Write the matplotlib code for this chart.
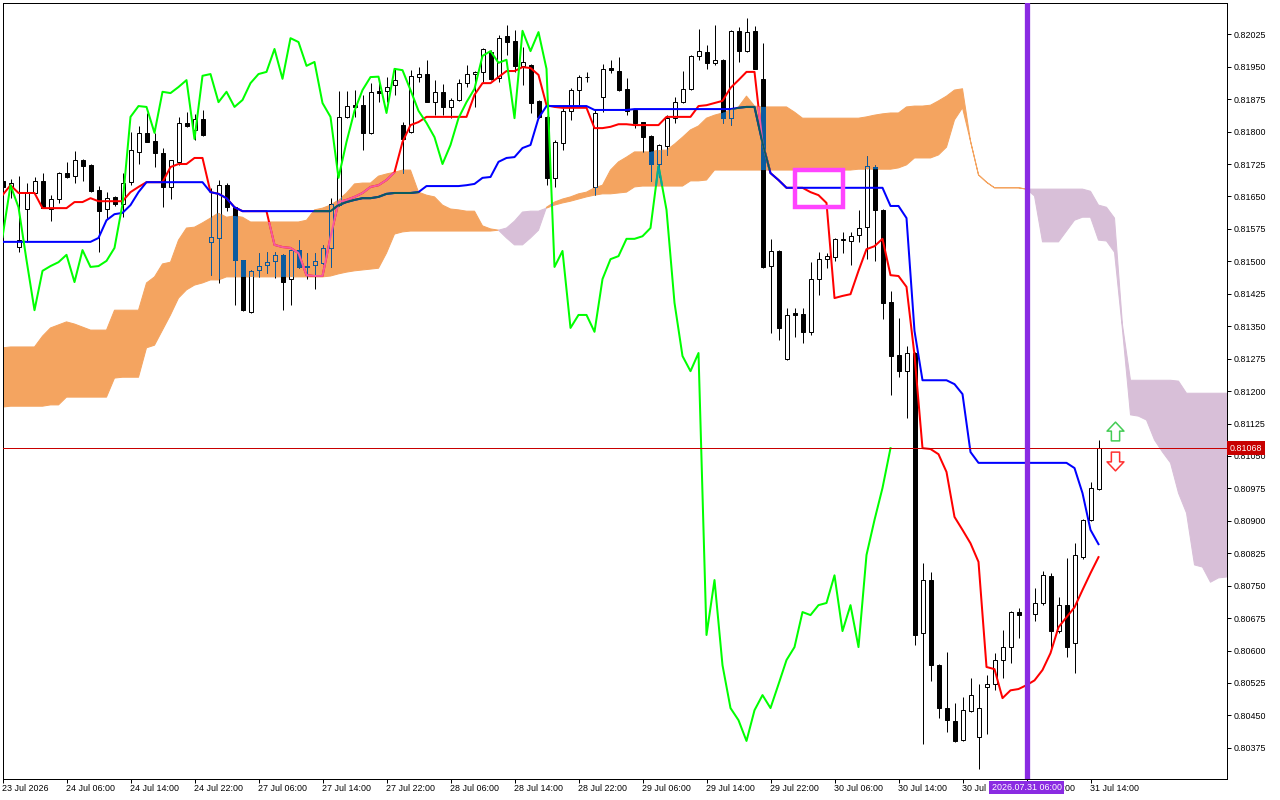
import numpy as np
import matplotlib
matplotlib.use("Agg")
import matplotlib.pyplot as plt
import matplotlib.colors as mcolors
import matplotlib.transforms as mtransforms
from matplotlib.patches import Rectangle
from matplotlib.path import Path
from matplotlib.ticker import FormatStrFormatter

plt.rcParams['font.family'] = ['Liberation Sans', 'DejaVu Sans']

# --- H1 bars, 23 Jul 22:00 .. 31 Jul 15:00 (bar index = x) ---
opens = [
    0.81686, 0.81672, 0.81533, 0.81621, 0.81658, 0.81686, 0.81621, 0.81644, 0.81704, 0.81697,
    0.81734, 0.81723, 0.81665, 0.81621, 0.81649, 0.81632, 0.81683, 0.81753, 0.81797, 0.81778,
    0.81750, 0.81672, 0.81730, 0.81820, 0.81804, 0.81829, 0.81545, 0.81554, 0.81676, 0.81625,
    0.81503, 0.81383, 0.81480, 0.81491, 0.81501, 0.81515, 0.81459, 0.81526, 0.81487, 0.81491,
    0.81496, 0.81531, 0.81630, 0.81834, 0.81861, 0.81861, 0.81797, 0.81894, 0.81894, 0.81908,
    0.81815, 0.81799, 0.81926, 0.81933, 0.81868, 0.81892, 0.81857, 0.81873, 0.81912, 0.81933,
    0.81938, 0.81984, 0.81924, 0.82021, 0.82010, 0.81952, 0.81954, 0.81871, 0.81834, 0.81693,
    0.81774, 0.81848, 0.81896, 0.81926, 0.81672, 0.81880, 0.81947, 0.81940, 0.81899, 0.81850,
    0.81822, 0.81790, 0.81725, 0.81767, 0.81831, 0.81868, 0.81899, 0.81975, 0.81984, 0.81959,
    0.81966, 0.81831, 0.82033, 0.81986, 0.82033, 0.81922, 0.81489, 0.81524, 0.81274, 0.81381,
    0.81378, 0.81337, 0.81459, 0.81505, 0.81510, 0.81549, 0.81547, 0.81561, 0.81579, 0.81718,
    0.81619, 0.81406, 0.81283, 0.81246, 0.81288, 0.80640, 0.80763, 0.80566, 0.80467, 0.80437,
    0.80393, 0.80460, 0.80400, 0.80515, 0.80522, 0.80578, 0.80608, 0.80689, 0.80682, 0.80684,
    0.80710, 0.80772, 0.80645, 0.80705, 0.80617, 0.80816, 0.80902, 0.80974]
highs = [
    0.81690, 0.81690, 0.81697, 0.81681, 0.81695, 0.81704, 0.81653, 0.81706, 0.81730, 0.81755,
    0.81736, 0.81725, 0.81674, 0.81660, 0.81650, 0.81704, 0.81799, 0.81813, 0.81843, 0.81797,
    0.81762, 0.81734, 0.81834, 0.81845, 0.81841, 0.81850, 0.81670, 0.81688, 0.81681, 0.81626,
    0.81504, 0.81480, 0.81519, 0.81521, 0.81521, 0.81517, 0.81526, 0.81549, 0.81519, 0.81519,
    0.81538, 0.81646, 0.81894, 0.81894, 0.81896, 0.81885, 0.81912, 0.81912, 0.81926, 0.81947,
    0.81822, 0.81942, 0.81949, 0.81966, 0.81919, 0.81910, 0.81878, 0.81922, 0.81954, 0.81939,
    0.81993, 0.81989, 0.82023, 0.82047, 0.82035, 0.81996, 0.81956, 0.81873, 0.81836, 0.81781,
    0.81855, 0.81901, 0.81931, 0.81938, 0.81852, 0.81956, 0.81966, 0.81973, 0.81924, 0.81851,
    0.81823, 0.81791, 0.81771, 0.81838, 0.81880, 0.81940, 0.81976, 0.82037, 0.82000, 0.82047,
    0.81967, 0.82034, 0.82042, 0.82063, 0.82044, 0.82005, 0.81552, 0.81526, 0.81392, 0.81392,
    0.81392, 0.81498, 0.81521, 0.81519, 0.81553, 0.81568, 0.81568, 0.81619, 0.81743, 0.81723,
    0.81621, 0.81431, 0.81369, 0.81304, 0.81290, 0.80802, 0.80781, 0.80568, 0.80596, 0.80478,
    0.80492, 0.80536, 0.80522, 0.80543, 0.80594, 0.80647, 0.80691, 0.80698, 0.80710, 0.80744,
    0.80784, 0.80779, 0.80724, 0.80814, 0.80848, 0.80904, 0.80990, 0.81087]
lows = [
    0.81665, 0.81646, 0.81521, 0.81545, 0.81653, 0.81623, 0.81593, 0.81635, 0.81693, 0.81681,
    0.81686, 0.81660, 0.81521, 0.81598, 0.81628, 0.81602, 0.81676, 0.81725, 0.81776, 0.81718,
    0.81625, 0.81644, 0.81723, 0.81811, 0.81781, 0.81790, 0.81468, 0.81450, 0.81616, 0.81399,
    0.81385, 0.81381, 0.81464, 0.81473, 0.81461, 0.81387, 0.81399, 0.81484, 0.81459, 0.81436,
    0.81494, 0.81487, 0.81628, 0.81831, 0.81834, 0.81757, 0.81794, 0.81868, 0.81868, 0.81885,
    0.81704, 0.81797, 0.81915, 0.81868, 0.81838, 0.81838, 0.81831, 0.81871, 0.81903, 0.81857,
    0.81915, 0.81919, 0.81915, 0.81977, 0.81938, 0.81908, 0.81843, 0.81831, 0.81676, 0.81672,
    0.81757, 0.81827, 0.81861, 0.81915, 0.81653, 0.81845, 0.81936, 0.81894, 0.81838, 0.81808,
    0.81753, 0.81686, 0.81695, 0.81746, 0.81820, 0.81866, 0.81896, 0.81966, 0.81945, 0.81954,
    0.81820, 0.81815, 0.81961, 0.81984, 0.81945, 0.81484, 0.81334, 0.81318, 0.81272, 0.81325,
    0.81311, 0.81330, 0.81422, 0.81484, 0.81501, 0.81519, 0.81491, 0.81545, 0.81505, 0.81501,
    0.81367, 0.81191, 0.81232, 0.81138, 0.80613, 0.80384, 0.80529, 0.80444, 0.80411, 0.80389,
    0.80391, 0.80458, 0.80326, 0.80407, 0.80508, 0.80536, 0.80571, 0.80629, 0.80666, 0.80668,
    0.80705, 0.80601, 0.80640, 0.80585, 0.80548, 0.80811, 0.80900, 0.80971]
closes = [
    0.81672, 0.81681, 0.81549, 0.81658, 0.81686, 0.81623, 0.81644, 0.81704, 0.81695, 0.81734,
    0.81720, 0.81662, 0.81616, 0.81646, 0.81632, 0.81681, 0.81757, 0.81797, 0.81776, 0.81750,
    0.81672, 0.81734, 0.81820, 0.81813, 0.81829, 0.81792, 0.81556, 0.81676, 0.81625, 0.81503,
    0.81387, 0.81478, 0.81489, 0.81498, 0.81515, 0.81452, 0.81526, 0.81487, 0.81489, 0.81501,
    0.81531, 0.81632, 0.81834, 0.81859, 0.81857, 0.81797, 0.81892, 0.81889, 0.81903, 0.81919,
    0.81783, 0.81929, 0.81933, 0.81868, 0.81892, 0.81857, 0.81873, 0.81912, 0.81933, 0.81938,
    0.81991, 0.81922, 0.82016, 0.82007, 0.81952, 0.81961, 0.81866, 0.81834, 0.81693, 0.81776,
    0.81848, 0.81896, 0.81926, 0.81927, 0.81843, 0.81945, 0.81942, 0.81896, 0.81848, 0.81820,
    0.81787, 0.81725, 0.81769, 0.81831, 0.81868, 0.81899, 0.81975, 0.81986, 0.81959, 0.81966,
    0.81831, 0.82033, 0.81986, 0.82030, 0.81945, 0.81487, 0.81524, 0.81346, 0.81376, 0.81376,
    0.81337, 0.81459, 0.81505, 0.81512, 0.81552, 0.81552, 0.81558, 0.81577, 0.81720, 0.81619,
    0.81404, 0.81281, 0.81246, 0.81288, 0.80636, 0.80763, 0.80566, 0.80467, 0.80439, 0.80391,
    0.80462, 0.80497, 0.80467, 0.80522, 0.80578, 0.80608, 0.80689, 0.80682, 0.80705, 0.80710,
    0.80774, 0.80645, 0.80705, 0.80608, 0.80821, 0.80902, 0.80976, 0.81068]

# --- Ichimoku lines ---
tenkan = [
    0.81653, 0.81676, 0.81658, 0.81658, 0.81658, 0.81623, 0.81623, 0.81623, 0.81623, 0.81637,
    0.81637, 0.81646, 0.81639, 0.81639, 0.81639, 0.81639, 0.81660, 0.81672, 0.81683, 0.81683,
    0.81683, 0.81718, 0.81725, 0.81725, 0.81739, 0.81739, 0.81660, 0.81656, 0.81646, 0.81625,
    0.81616, 0.81616, 0.81616, 0.81616, 0.81538, 0.81533, 0.81531, 0.81519, 0.81468, 0.81466,
    0.81466, 0.81556, 0.81637, 0.81642, 0.81649, 0.81658, 0.81672, 0.81676, 0.81688, 0.81706,
    0.81776, 0.81815, 0.81822, 0.81834, 0.81834, 0.81834, 0.81834, 0.81834, 0.81834, 0.81885,
    0.81912, 0.81912, 0.81926, 0.81940, 0.81940, 0.81949, 0.81947, 0.81931, 0.81861, 0.81857,
    0.81855, 0.81855, 0.81855, 0.81855, 0.81808, 0.81808, 0.81811, 0.81817, 0.81817, 0.81815,
    0.81815, 0.81815, 0.81815, 0.81834, 0.81834, 0.81834, 0.81834, 0.81859, 0.81861, 0.81866,
    0.81871, 0.81901, 0.81919, 0.81938, 0.81938, 0.81774, 0.81704, 0.81688, 0.81670, 0.81670,
    0.81670, 0.81660, 0.81653, 0.81635, 0.81415, 0.81420, 0.81424, 0.81478, 0.81528, 0.81535,
    0.81552, 0.81468, 0.81466, 0.81441, 0.81283, 0.81068, 0.81066, 0.81054, 0.81013, 0.80909,
    0.80879, 0.80848, 0.80805, 0.80562, 0.80557, 0.80490, 0.80508, 0.80511, 0.80520, 0.80531,
    0.80555, 0.80594, 0.80654, 0.80677, 0.80700, 0.80740, 0.80779, 0.80816]
kijun = [
    0.81545, 0.81545, 0.81545, 0.81545, 0.81545, 0.81545, 0.81545, 0.81545, 0.81545, 0.81545,
    0.81545, 0.81545, 0.81554, 0.81595, 0.81609, 0.81612, 0.81630, 0.81660, 0.81683, 0.81683,
    0.81683, 0.81683, 0.81683, 0.81683, 0.81683, 0.81683, 0.81660, 0.81656, 0.81646, 0.81625,
    0.81616, 0.81616, 0.81616, 0.81616, 0.81616, 0.81616, 0.81616, 0.81616, 0.81616, 0.81616,
    0.81616, 0.81616, 0.81630, 0.81637, 0.81642, 0.81646, 0.81646, 0.81649, 0.81656, 0.81658,
    0.81658, 0.81658, 0.81660, 0.81674, 0.81674, 0.81674, 0.81674, 0.81674, 0.81676, 0.81679,
    0.81693, 0.81695, 0.81730, 0.81739, 0.81741, 0.81762, 0.81769, 0.81831, 0.81859, 0.81859,
    0.81859, 0.81859, 0.81859, 0.81859, 0.81850, 0.81850, 0.81850, 0.81850, 0.81850, 0.81852,
    0.81852, 0.81852, 0.81852, 0.81852, 0.81852, 0.81852, 0.81852, 0.81852, 0.81852, 0.81852,
    0.81852, 0.81852, 0.81855, 0.81857, 0.81857, 0.81774, 0.81704, 0.81688, 0.81670, 0.81670,
    0.81670, 0.81670, 0.81670, 0.81670, 0.81670, 0.81670, 0.81670, 0.81670, 0.81670, 0.81670,
    0.81670, 0.81628, 0.81628, 0.81600, 0.81339, 0.81225, 0.81225, 0.81225, 0.81225, 0.81216,
    0.81193, 0.81059, 0.81034, 0.81034, 0.81034, 0.81034, 0.81034, 0.81034, 0.81034, 0.81034,
    0.81034, 0.81034, 0.81034, 0.81034, 0.81022, 0.80964, 0.80879, 0.80846]
# Senkou spans, already displaced 26 bars forward (index = bar on screen)
span_a = [
    0.81300, 0.81302, 0.81302, 0.81302, 0.81302, 0.81327, 0.81346, 0.81353, 0.81360, 0.81355,
    0.81348, 0.81341, 0.81341, 0.81341, 0.81387, 0.81387, 0.81387, 0.81387, 0.81450, 0.81464,
    0.81494, 0.81498, 0.81549, 0.81577, 0.81579, 0.81589, 0.81600, 0.81612, 0.81602, 0.81605,
    0.81602, 0.81591, 0.81591, 0.81591, 0.81591, 0.81591, 0.81591, 0.81591, 0.81595, 0.81619,
    0.81623, 0.81630, 0.81642, 0.81658, 0.81679, 0.81681, 0.81681, 0.81697, 0.81702, 0.81706,
    0.81711, 0.81711, 0.81660, 0.81653, 0.81649, 0.81630, 0.81621, 0.81619, 0.81616, 0.81616,
    0.81582, 0.81575, 0.81572, 0.81554, 0.81538, 0.81538, 0.81554, 0.81572, 0.81625, 0.81637,
    0.81644, 0.81649, 0.81656, 0.81660, 0.81670, 0.81676, 0.81711, 0.81730, 0.81741, 0.81753,
    0.81753, 0.81753, 0.81757, 0.81757, 0.81771, 0.81787, 0.81804, 0.81813, 0.81831, 0.81838,
    0.81843, 0.81850, 0.81857, 0.81882, 0.81859, 0.81857, 0.81857, 0.81857, 0.81857, 0.81845,
    0.81831, 0.81831, 0.81831, 0.81831, 0.81831, 0.81831, 0.81831, 0.81831, 0.81834, 0.81838,
    0.81841, 0.81843, 0.81843, 0.81857, 0.81859, 0.81859, 0.81861, 0.81871, 0.81882, 0.81896,
    0.81899, 0.81778, 0.81700, 0.81683, 0.81670, 0.81670, 0.81670, 0.81670, 0.81667, 0.81651,
    0.81545, 0.81545, 0.81545, 0.81570, 0.81595, 0.81602, 0.81602, 0.81549, 0.81547, 0.81521,
    0.81341, 0.81145, 0.81142, 0.81133, 0.81087, 0.81059, 0.81034, 0.80964, 0.80918, 0.80798,
    0.80793, 0.80758, 0.80768, 0.80770]
span_b = [
    0.81163, 0.81165, 0.81165, 0.81165, 0.81165, 0.81165, 0.81168, 0.81168, 0.81186, 0.81186,
    0.81186, 0.81186, 0.81186, 0.81186, 0.81230, 0.81232, 0.81232, 0.81232, 0.81300, 0.81306,
    0.81341, 0.81376, 0.81415, 0.81434, 0.81445, 0.81450, 0.81457, 0.81457, 0.81464, 0.81464,
    0.81464, 0.81464, 0.81464, 0.81464, 0.81464, 0.81464, 0.81464, 0.81464, 0.81464, 0.81464,
    0.81464, 0.81466, 0.81471, 0.81475, 0.81478, 0.81480, 0.81482, 0.81484, 0.81519, 0.81563,
    0.81568, 0.81570, 0.81570, 0.81570, 0.81570, 0.81570, 0.81570, 0.81570, 0.81570, 0.81570,
    0.81570, 0.81570, 0.81572, 0.81577, 0.81593, 0.81614, 0.81616, 0.81616, 0.81623, 0.81630,
    0.81635, 0.81639, 0.81644, 0.81649, 0.81653, 0.81656, 0.81656, 0.81658, 0.81660, 0.81672,
    0.81674, 0.81674, 0.81674, 0.81674, 0.81674, 0.81674, 0.81686, 0.81686, 0.81688, 0.81711,
    0.81711, 0.81711, 0.81711, 0.81711, 0.81711, 0.81711, 0.81711, 0.81711, 0.81711, 0.81711,
    0.81711, 0.81711, 0.81711, 0.81711, 0.81711, 0.81711, 0.81711, 0.81713, 0.81713, 0.81713,
    0.81713, 0.81713, 0.81716, 0.81723, 0.81739, 0.81739, 0.81739, 0.81746, 0.81764, 0.81827,
    0.81855, 0.81778, 0.81700, 0.81683, 0.81670, 0.81670, 0.81670, 0.81670, 0.81667, 0.81667,
    0.81667, 0.81667, 0.81667, 0.81667, 0.81667, 0.81667, 0.81662, 0.81630, 0.81625, 0.81600,
    0.81353, 0.81225, 0.81225, 0.81225, 0.81225, 0.81225, 0.81225, 0.81223, 0.81195, 0.81195,
    0.81195, 0.81195, 0.81195, 0.81195]
CHIKOU_SHIFT = 26

TICK_BARS = list(range(0, 137, 8))
TICK_LABELS = ['23 Jul 2026', '24 Jul 06:00', '24 Jul 14:00', '24 Jul 22:00', '27 Jul 06:00',
               '27 Jul 14:00', '27 Jul 22:00', '28 Jul 06:00', '28 Jul 14:00', '28 Jul 22:00',
               '29 Jul 06:00', '29 Jul 14:00', '29 Jul 22:00', '30 Jul 06:00', '30 Jul 14:00',
               '30 Jul 22:00', '31 Jul 06:00', '31 Jul 14:00']
PRICE_TICKS = np.arange(0.80375, 0.82030, 0.00075)

LAST_PRICE = 0.81068
VLINE_BAR = 128
VLINE_LABEL = '2026.07.31 06:00'
RECT_BARS = (99, 105)
RECT_PRICES = (0.81625, 0.81712)
ARROW_BAR = 139
ARROW_UP_PRICE = 0.81108
ARROW_DOWN_PRICE = 0.81039

# --- styling ---
CLOUD_UP = '#f4a460'   # SandyBrown
CLOUD_DN = '#d8bfd8'   # Thistle
VLINE_COLOR = '#8a2be2'
PRICE_COLOR = '#c80000'
RECT_COLOR = '#ff44ff'
LW = 0.72              # one pixel at 100 dpi
FS = 6.4


def xor_color(color, fill):
    """MT5 paints the cloud in XOR mode: colour under the cloud = c ^ ~fill."""
    c = np.round(np.array(mcolors.to_rgb(color)) * 255).astype(int)
    f = np.round(np.array(mcolors.to_rgb(fill)) * 255).astype(int)
    return tuple((c ^ (255 - f)) / 255.0)


# hollow arrow glyph used for the buy / sell marks
ARROW_UP = Path([(-0.22, -0.5), (0.22, -0.5), (0.22, 0.02), (0.45, 0.02), (0.0, 0.5),
                 (-0.45, 0.02), (-0.22, 0.02), (-0.22, -0.5)],
                [Path.MOVETO] + [Path.LINETO] * 6 + [Path.CLOSEPOLY])
ARROW_DOWN = Path(ARROW_UP.vertices * np.array([1, -1]), ARROW_UP.codes)

opens, highs, lows, closes = map(np.array, (opens, highs, lows, closes))
x_bars = np.arange(len(closes))
x_cloud = np.arange(len(span_a))
a = np.array(span_a)
b = np.array(span_b)
up = closes >= opens
body_bottom = np.minimum(opens, closes)
body_height = np.abs(closes - opens)

fig = plt.figure(figsize=(12.8, 8), dpi=100)
ax = fig.add_axes([2.5 / 1280, 21 / 800, 1224.8 / 1280, 776.3 / 800])
ax.set_xlim(0, 153.1)
ax.set_ylim(0.80303, 0.82098)

cloud_up = ax.fill_between(x_cloud, a, b, where=a >= b, interpolate=True,
                           facecolor=CLOUD_UP, edgecolor=CLOUD_UP, linewidth=LW, zorder=1)
ax.fill_between(x_cloud, a, b, where=a < b, interpolate=True,
                facecolor=CLOUD_DN, edgecolor=CLOUD_DN, linewidth=LW, zorder=1)
cloud_path = Path.make_compound_path(*cloud_up.get_paths())


def draw_candles(ink, z):
    black, white = ink('black'), ink('white')
    wicks = ax.vlines(x_bars, lows, highs, colors=[black], linewidth=LW, zorder=z)
    bodies = ax.bar(x_bars, body_height, width=0.5, bottom=body_bottom,
                    color=[white if u else black for u in up], edgecolor=black,
                    linewidth=LW, zorder=z + 0.1)
    return [wicks] + list(bodies.patches)


def draw_lines(ink, z):
    n_ch = len(closes) - CHIKOU_SHIFT
    l1, = ax.plot(x_bars, tenkan, color=ink('#ff0000'), lw=1.45, zorder=z)
    l2, = ax.plot(x_bars, kijun, color=ink('#0000ff'), lw=1.45, zorder=z + 0.1)
    l3, = ax.plot(x_bars[:n_ch], closes[CHIKOU_SHIFT:], color=ink('#00ff00'), lw=1.45, zorder=z + 0.2)
    return [l1, l2, l3]


plain = lambda c: c
inside = lambda c: xor_color(c, CLOUD_UP)
draw_candles(plain, 3)
draw_lines(plain, 4)
for art in draw_candles(inside, 5) + draw_lines(inside, 6):
    art.set_clip_path(cloud_path, ax.transData)

# --- objects on the chart ---
ax.add_patch(Rectangle((RECT_BARS[0], RECT_PRICES[0]), RECT_BARS[1] - RECT_BARS[0],
                       RECT_PRICES[1] - RECT_PRICES[0], fill=False,
                       edgecolor=RECT_COLOR, linewidth=3.2, zorder=7))
ax.axhline(LAST_PRICE, color=PRICE_COLOR, lw=LW, zorder=7)
ax.axvline(VLINE_BAR, color=VLINE_COLOR, lw=3.8, zorder=8)
ax.plot([ARROW_BAR], [ARROW_UP_PRICE], marker=ARROW_UP, markersize=13.5,
        markerfacecolor='white', markeredgecolor='#44cc55', markeredgewidth=1.1,
        linestyle='none', zorder=8)
ax.plot([ARROW_BAR], [ARROW_DOWN_PRICE], marker=ARROW_DOWN, markersize=13.5,
        markerfacecolor='white', markeredgecolor='#ff3030', markeredgewidth=1.1,
        linestyle='none', zorder=8)

# --- axes ---
ax.yaxis.tick_right()
ax.set_yticks(PRICE_TICKS)
ax.yaxis.set_major_formatter(FormatStrFormatter('%.5f'))
ax.tick_params(axis='y', direction='out', length=2.9, width=LW, pad=1.3, labelsize=FS)
ax.set_xticks(TICK_BARS, TICK_LABELS)
ax.tick_params(axis='x', direction='out', length=2.9, width=LW, pad=0.6, labelsize=FS)
for lab in ax.get_xticklabels():
    lab.set_horizontalalignment('left')
for sp in ax.spines.values():
    sp.set_linewidth(LW)

y_data = mtransforms.blended_transform_factory(ax.transAxes, ax.transData)
ax.text(1.002, LAST_PRICE, f'{LAST_PRICE:.5f}', transform=y_data, ha='left', va='center',
        color='white', fontsize=FS, clip_on=False, zorder=10,
        bbox=dict(boxstyle='square,pad=0.28', fc=PRICE_COLOR, ec='none'))
x_data = mtransforms.blended_transform_factory(ax.transData, ax.transAxes)
ax.text(VLINE_BAR, -0.0055, VLINE_LABEL, transform=x_data, ha='center', va='top',
        color='white', fontsize=FS, clip_on=False, zorder=10,
        bbox=dict(boxstyle='square,pad=0.25', fc=VLINE_COLOR, ec='none'))

fig.savefig('out.png', dpi=100)
